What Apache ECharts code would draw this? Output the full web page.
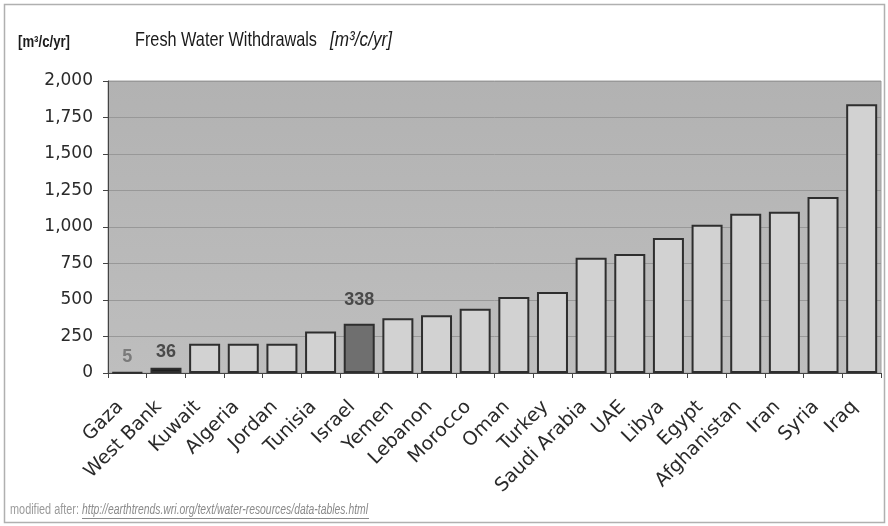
<!DOCTYPE html>
<html>
<head>
<meta charset="utf-8">
<script src="https://cdn.jsdelivr.net/npm/echarts@6/dist/echarts.min.js"></script>
<style>
html,body{margin:0;padding:0;background:#fff;}
#chart{width:888px;height:526px;}
</style>
</head>
<body>
<div id="chart"></div>
<script>
const categories = ["Gaza","West Bank","Kuwait","Algeria","Jordan","Tunisia","Israel","Yemen","Lebanon","Morocco","Oman","Turkey","Saudi Arabia","UAE","Libya","Egypt","Afghanistan","Iran","Syria","Iraq"];
const withdrawals = [5,36,200,200,200,285,338,375,395,440,520,555,790,815,925,1015,1090,1105,1205,1840];
const labelled = ["Gaza","West Bank","Israel"];
const yTicks = [0,250,500,750,1000,1250,1500,1750,2000];
const titleText = "Fresh Water Withdrawals";
const unitText = "[m³/c/yr]";
const sourcePrefix = "modified after:";
const sourceUrl = "http://earthtrends.wri.org/text/water-resources/data-tables.html";

const barColor = {"West Bank":"#1e1e1e","Israel":"#6f6f6f"};
const labelColor = {"Gaza":"#7a7a7a","West Bank":"#4a4a4a","Israel":"#4a4a4a"};
const labelGap = {"Gaza":6,"West Bank":7,"Israel":15};
const AX = 'DejaVu Sans, Liberation Sans, Arial';
const SANS = 'Liberation Sans, Arial';

const cv = document.createElement('canvas').getContext('2d');
function fit(text, font, target){ cv.font = font; return target / cv.measureText(text).width; }

function scaledText(text, x, y, width, size, opts){
  opts = opts || {};
  const style = (opts.italic ? 'italic ' : '') + (opts.bold ? 'bold ' : '') + size + 'px ' + SANS;
  return {type:'text', x:x, y:y, scaleX: fit(text, style, width), silent:true,
    style:{text:text, fontSize:size, fontStyle: opts.italic?'italic':'normal', fontWeight: opts.bold?'bold':'normal',
      fontFamily:SANS, fill: opts.color || '#1a1a1a', verticalAlign:'middle', align:'left'}};
}

const data = categories.map((c,i)=>{
  const item = {value: withdrawals[i], itemStyle:{color: barColor[c] || "#d2d2d2"}};
  if (labelled.indexOf(c) >= 0) {
    item.label = {show:true, position:'top', distance:labelGap[c], color: labelColor[c], fontSize:18, fontWeight:'bold', fontFamily:SANS};
  }
  return item;
});

const chart = echarts.init(document.getElementById('chart'));
chart.setOption({
  animation:false,
  backgroundColor:'#ffffff',
  textStyle:{fontFamily:AX},
  grid:{left:108, right:7, top:81, bottom:153, show:true,
    backgroundColor:{type:'linear',x:0,y:0,x2:0,y2:1,colorStops:[{offset:0,color:'#b2b2b2'},{offset:1,color:'#bebebe'}]},
    borderColor:'#a0a0a0', borderWidth:1},
  xAxis:{
    type:'category', data:categories,
    axisLine:{lineStyle:{color:'#444', width:1}},
    axisTick:{show:true, length:5, lineStyle:{color:'#444'}},
    axisLabel:{rotate:45, fontSize:19, color:'#2a2a2a', margin:24, padding:[0,10,0,0], interval:0, fontFamily:AX}
  },
  yAxis:{
    type:'value', min:yTicks[0], max:yTicks[yTicks.length-1], interval:250,
    axisLine:{show:true, lineStyle:{color:'#444'}},
    axisTick:{show:true, length:5, lineStyle:{color:'#444'}},
    axisLabel:{fontSize:17, color:'#2a2a2a', margin:15, formatter:v=>v.toLocaleString('en-US'), fontFamily:AX},
    splitLine:{lineStyle:{color:'#989898', width:1}}
  },
  series:[{
    type:'bar', data:data, barWidth:31,
    itemStyle:{borderColor:'#2e2e2e', borderWidth:2}
  }],
  graphic:[
    {type:'rect', shape:{x:4.5,y:4.5,width:880,height:518}, style:{fill:null, stroke:'#b0b0b0', lineWidth:1.5}, silent:true, z:-1},
    scaledText(titleText, 135, 40, 182, 21, {}),
    scaledText(unitText, 330, 40, 62, 21, {italic:true}),
    scaledText(unitText, 18, 43, 52, 16, {bold:true}),
    scaledText(sourcePrefix, 10, 510, 69, 14, {color:'#9a9a9a'}),
    scaledText(sourceUrl, 82, 510, 286, 14, {italic:true, color:'#8a8a8a'}),
    {type:'line', shape:{x1:82,y1:518.5,x2:369,y2:518.5}, style:{stroke:'#8a8a8a', lineWidth:1}, silent:true}
  ]
});
</script>
</body>
</html>
